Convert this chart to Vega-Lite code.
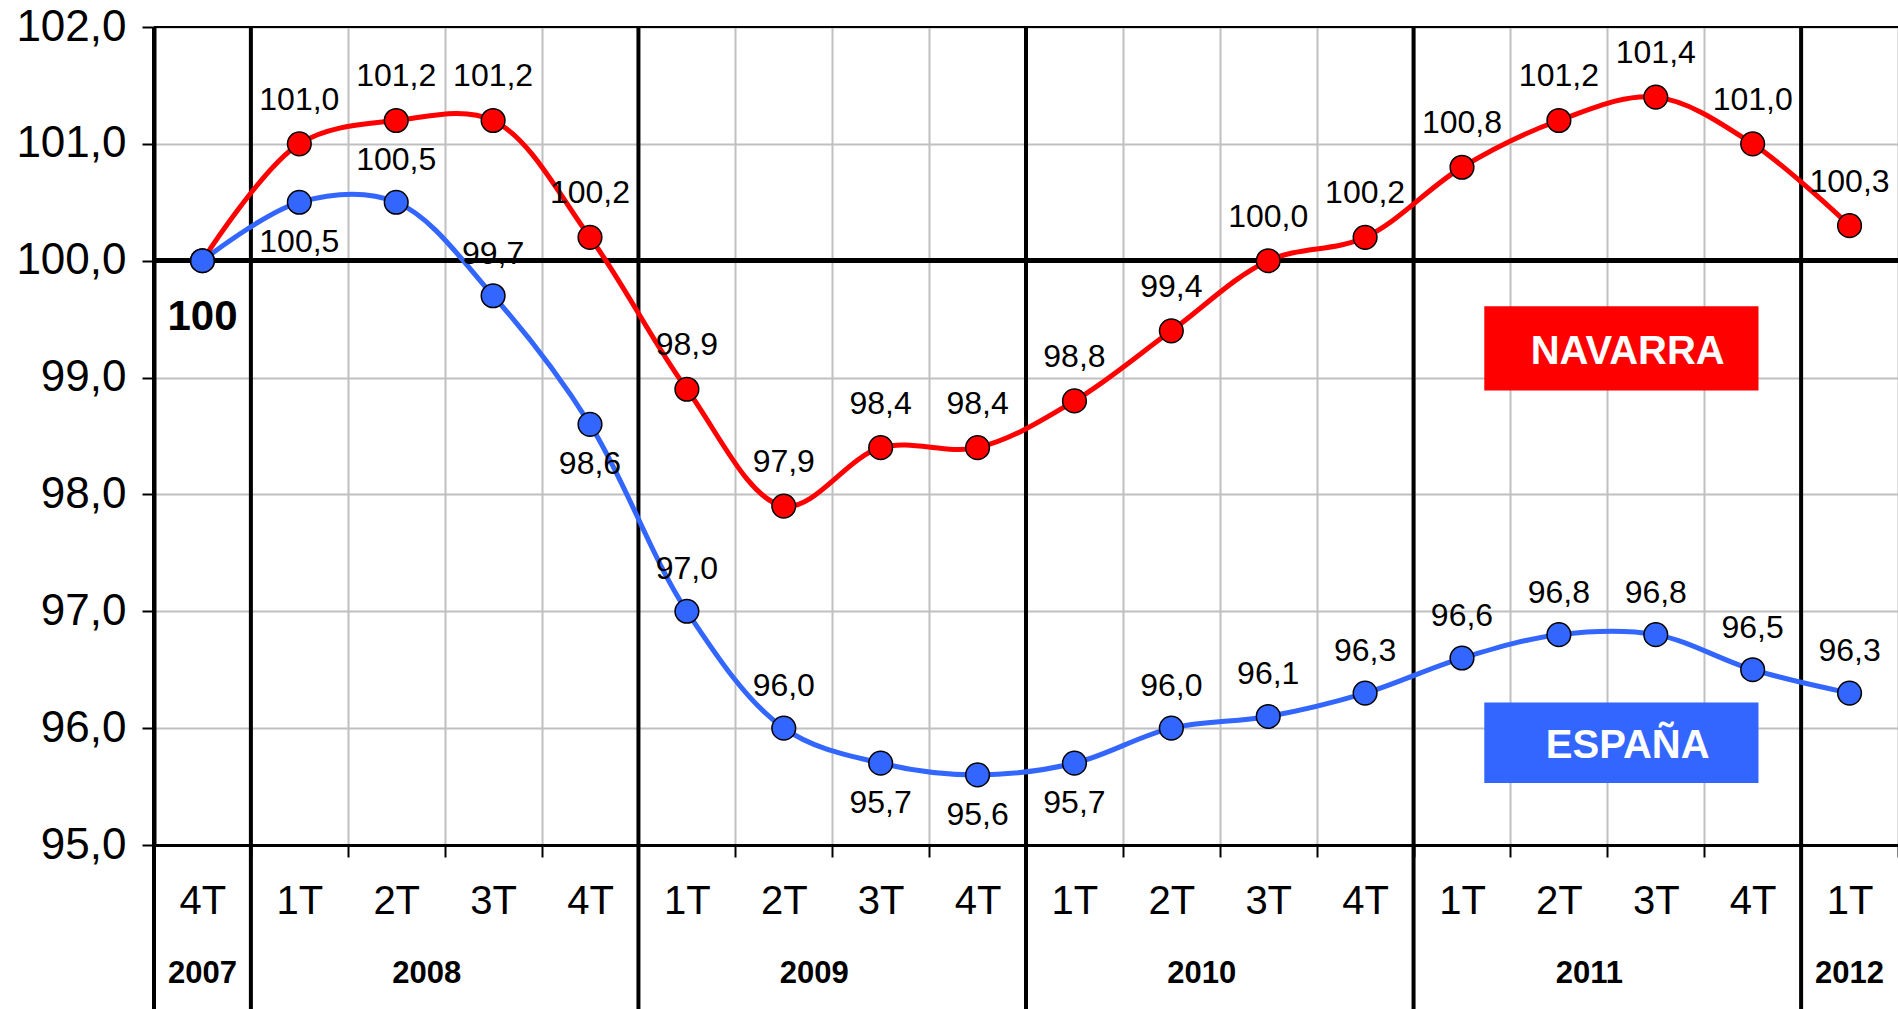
{
  "$schema": "https://vega.github.io/schema/vega-lite/v6.json",
  "autosize": {"type": "none"},
  "width": 1744,
  "height": 818,
  "padding": {"left": 154, "top": 27, "right": 0, "bottom": 164},
  "background": "white",
  "config": {"view": {"stroke": null}},
  "data": {"values": [
    {"k": "2007 4T", "q": "4T", "year": "2007", "Navarra": 100.0, "España": 100.0},
    {"k": "2008 1T", "q": "1T", "year": "2008", "Navarra": 101.0, "España": 100.5},
    {"k": "2008 2T", "q": "2T", "year": "2008", "Navarra": 101.2, "España": 100.5},
    {"k": "2008 3T", "q": "3T", "year": "2008", "Navarra": 101.2, "España": 99.7},
    {"k": "2008 4T", "q": "4T", "year": "2008", "Navarra": 100.2, "España": 98.6},
    {"k": "2009 1T", "q": "1T", "year": "2009", "Navarra": 98.9, "España": 97.0},
    {"k": "2009 2T", "q": "2T", "year": "2009", "Navarra": 97.9, "España": 96.0},
    {"k": "2009 3T", "q": "3T", "year": "2009", "Navarra": 98.4, "España": 95.7},
    {"k": "2009 4T", "q": "4T", "year": "2009", "Navarra": 98.4, "España": 95.6},
    {"k": "2010 1T", "q": "1T", "year": "2010", "Navarra": 98.8, "España": 95.7},
    {"k": "2010 2T", "q": "2T", "year": "2010", "Navarra": 99.4, "España": 96.0},
    {"k": "2010 3T", "q": "3T", "year": "2010", "Navarra": 100.0, "España": 96.1},
    {"k": "2010 4T", "q": "4T", "year": "2010", "Navarra": 100.2, "España": 96.3},
    {"k": "2011 1T", "q": "1T", "year": "2011", "Navarra": 100.8, "España": 96.6},
    {"k": "2011 2T", "q": "2T", "year": "2011", "Navarra": 101.2, "España": 96.8},
    {"k": "2011 3T", "q": "3T", "year": "2011", "Navarra": 101.4, "España": 96.8},
    {"k": "2011 4T", "q": "4T", "year": "2011", "Navarra": 101.0, "España": 96.5},
    {"k": "2012 1T", "q": "1T", "year": "2012", "Navarra": 100.3, "España": 96.3}
  ]},
  "resolve": {"scale": {"x": "shared", "y": "shared"}},
  "layer": [
    {
      "mark": {"type": "rule", "color": "black", "strokeWidth": 2},
      "encoding": {"y": {"datum": 102, "type": "quantitative",
        "scale": {"domain": [95, 102], "nice": false, "zero": false},
        "axis": {
          "title": null, "values": [95, 96, 97, 98, 99, 100, 101, 102],
          "labelExpr": "replace(format(datum.value, '.1f'), '.', ',')",
          "grid": true, "gridColor": "#c0c0c0", "gridWidth": 2,
          "tickColor": "black", "tickSize": 12, "tickWidth": 2,
          "domain": true, "domainColor": "black", "domainWidth": 4,
          "labelFont": "Liberation Sans", "labelFontSize": 44, "labelColor": "black", "labelPadding": 16
        }}}
    },
    {
      "mark": {"type": "rule", "color": "black", "strokeWidth": 4},
      "encoding": {"y": {"datum": 100, "type": "quantitative"}}
    },
    {
      "transform": [{"filter": "datum.q == '1T' || datum.k == '2007 4T'"}],
      "mark": {"type": "rule", "color": "black", "strokeWidth": 4},
      "encoding": {
        "x": {
          "field": "k", "type": "nominal", "bandPosition": 0,
          "scale": {"type": "band", "paddingInner": 0, "paddingOuter": 0,
            "domain": ["2007 4T","2008 1T","2008 2T","2008 3T","2008 4T","2009 1T","2009 2T","2009 3T","2009 4T","2010 1T","2010 2T","2010 3T","2010 4T","2011 1T","2011 2T","2011 3T","2011 4T","2012 1T"]},
          "axis": {
            "title": null, "orient": "bottom", "labelAngle": 0,
            "labelExpr": "split(datum.label, ' ')[1]",
            "tickBand": "extent", "grid": true, "gridColor": "#c0c0c0", "gridWidth": 2,
            "ticks": true, "tickColor": "black", "tickSize": 12, "tickWidth": 2,
            "domain": true, "domainColor": "black", "domainWidth": 3,
            "labelFont": "Liberation Sans", "labelFontSize": 40, "labelColor": "black",
            "labelBaseline": "middle", "labelPadding": 44
          }
        },
        "y": {"datum": 102, "type": "quantitative"},
        "y2": {"datum": 93.55}
      }
    },
    {
      "transform": [{"fold": ["Navarra", "España"], "as": ["serie", "value"]}],
      "mark": {"type": "line", "interpolate": "catmull-rom", "strokeWidth": 5},
      "encoding": {
        "x": {"field": "k", "type": "nominal"},
        "y": {"field": "value", "type": "quantitative"},
        "color": {"field": "serie", "type": "nominal",
          "scale": {"domain": ["Navarra", "España"], "range": ["#ff0000", "#3366ff"]}, "legend": null}
      }
    },
    {
      "transform": [{"fold": ["Navarra", "España"], "as": ["serie", "value"]}],
      "mark": {"type": "point", "filled": true, "shape": "circle", "size": 560, "stroke": "black", "strokeWidth": 1.5, "opacity": 1},
      "encoding": {
        "x": {"field": "k", "type": "nominal"},
        "y": {"field": "value", "type": "quantitative"},
        "color": {"field": "serie", "type": "nominal", "legend": null},
        "stroke": {"value": "black"},
        "order": {"field": "serie", "sort": "descending"}
      }
    },
    {
      "transform": [{"fold": ["Navarra"], "as": ["serie", "value"]}, {"filter": "datum.k != '2007 4T'"}],
      "mark": {"type": "text", "font": "Liberation Sans", "fontSize": 32, "color": "black", "baseline": "middle", "dy": -44},
      "encoding": {
        "x": {"field": "k", "type": "nominal"},
        "y": {"field": "value", "type": "quantitative"},
        "text": {"value": {"expr": "replace(format(datum.value, '.1f'), '.', ',')"}}
      }
    },
    {
      "transform": [{"fold": ["España"], "as": ["serie", "value"]}, {"filter": "datum.k != '2007 4T' && indexof(['2008 1T','2008 4T','2009 3T','2009 4T','2010 1T'], datum.k) < 0"}],
      "mark": {"type": "text", "font": "Liberation Sans", "fontSize": 32, "color": "black", "baseline": "middle", "dy": -42},
      "encoding": {
        "x": {"field": "k", "type": "nominal"},
        "y": {"field": "value", "type": "quantitative"},
        "text": {"value": {"expr": "replace(format(datum.value, '.1f'), '.', ',')"}}
      }
    },
    {
      "transform": [{"fold": ["España"], "as": ["serie", "value"]}, {"filter": "indexof(['2008 1T','2008 4T','2009 3T','2009 4T','2010 1T'], datum.k) >= 0"}],
      "mark": {"type": "text", "font": "Liberation Sans", "fontSize": 32, "color": "black", "baseline": "middle", "dy": 40},
      "encoding": {
        "x": {"field": "k", "type": "nominal"},
        "y": {"field": "value", "type": "quantitative"},
        "text": {"value": {"expr": "replace(format(datum.value, '.1f'), '.', ',')"}}
      }
    },
    {
      "transform": [{"fold": ["España"], "as": ["serie", "value"]}, {"filter": "datum.k == '2007 4T'"}],
      "mark": {"type": "text", "font": "Liberation Sans", "fontSize": 42, "fontWeight": "bold", "color": "black", "baseline": "middle"},
      "encoding": {
        "x": {"field": "k", "type": "nominal"},
        "y": {"datum": 99.52, "type": "quantitative"},
        "text": {"field": "value", "type": "quantitative", "format": ".0f"}
      }
    },
    {
      "transform": [{"filter": "datum.q == '3T'"}],
      "mark": {"type": "text", "font": "Liberation Sans", "fontSize": 31, "fontWeight": "bold", "color": "black", "baseline": "middle", "dx": -18},
      "encoding": {
        "x": {"field": "k", "type": "nominal", "bandPosition": 0},
        "y": {"datum": 93.9, "type": "quantitative"},
        "text": {"field": "year", "type": "nominal"}
      }
    },
    {
      "transform": [{"filter": "datum.k == '2007 4T' || datum.k == '2012 1T'"}],
      "mark": {"type": "text", "font": "Liberation Sans", "fontSize": 31, "fontWeight": "bold", "color": "black", "baseline": "middle"},
      "encoding": {
        "x": {"field": "k", "type": "nominal"},
        "y": {"datum": 93.9, "type": "quantitative"},
        "text": {"field": "year", "type": "nominal"}
      }
    },
    {
      "data": {"values": [{"serie": "NAVARRA"}]},
      "layer": [
        {
          "mark": {"type": "rect", "color": "#ff0000"},
          "encoding": {
            "x": {"datum": "2011 1T", "bandPosition": 0.73},
            "x2": {"datum": "2011 4T", "bandPosition": 0.56},
            "y": {"datum": 99.61, "type": "quantitative"},
            "y2": {"datum": 98.89}
          }
        },
        {
          "mark": {"type": "text", "font": "Liberation Sans", "fontSize": 40, "fontWeight": "bold", "color": "white", "baseline": "middle"},
          "encoding": {
            "x": {"datum": "2011 3T", "bandPosition": 0.21},
            "y": {"datum": 99.22, "type": "quantitative"},
            "text": {"field": "serie", "type": "nominal"}
          }
        }
      ]
    },
    {
      "data": {"values": [{"serie": "ESPAÑA"}]},
      "layer": [
        {
          "mark": {"type": "rect", "color": "#3366ff"},
          "encoding": {
            "x": {"datum": "2011 1T", "bandPosition": 0.73},
            "x2": {"datum": "2011 4T", "bandPosition": 0.56},
            "y": {"datum": 96.22, "type": "quantitative"},
            "y2": {"datum": 95.53}
          }
        },
        {
          "mark": {"type": "text", "font": "Liberation Sans", "fontSize": 40, "fontWeight": "bold", "color": "white", "baseline": "middle"},
          "encoding": {
            "x": {"datum": "2011 3T", "bandPosition": 0.21},
            "y": {"datum": 95.85, "type": "quantitative"},
            "text": {"field": "serie", "type": "nominal"}
          }
        }
      ]
    }
  ]
}
